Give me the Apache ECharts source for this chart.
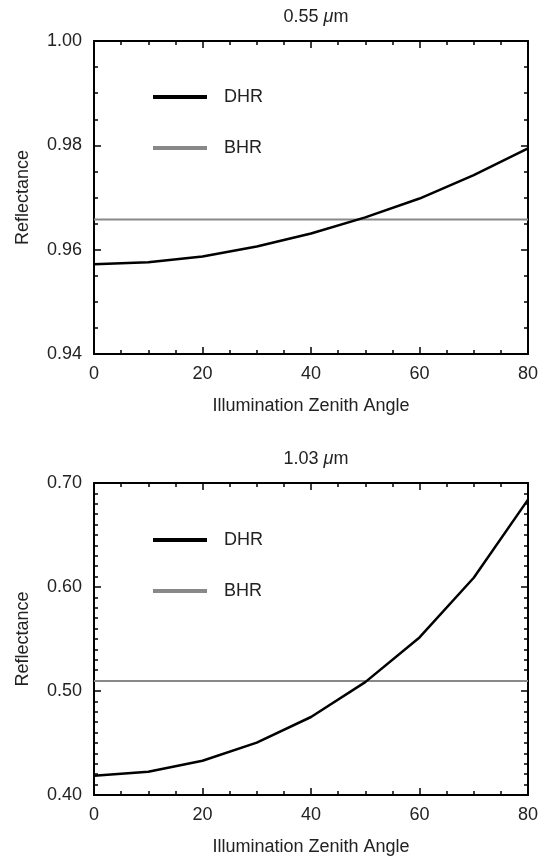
<!DOCTYPE html>
<html>
<head>
<meta charset="utf-8">
<script src="https://cdn.jsdelivr.net/npm/echarts@6/dist/echarts.min.js"></script>
<style>
html,body{margin:0;padding:0;background:#fff;}
#c{width:544px;height:858px;}
</style>
</head>
<body>
<div id="c"></div>
<script>
// Data
var angles = [0, 10, 20, 30, 40, 50, 60, 70, 80];
var dhr055 = [0.9572, 0.9576, 0.9587, 0.9606, 0.9631, 0.9662, 0.9698, 0.9743, 0.9794];
var bhr055 = 0.9658;
var dhr103 = [0.4185, 0.4223, 0.4329, 0.4504, 0.4750, 0.5085, 0.5515, 0.6089, 0.6840];
var bhr103 = 0.5095;
var titles = ['0.55 {i|μ}m', '1.03 {i|μ}m'];
var seriesNames = ['DHR', 'BHR'];
var xTitle = 'Illumination Zenith Angle';
var yTitle = 'Reflectance';

var FONT = '"Liberation Sans", Arial, Helvetica, sans-serif';
var TXT = '#222';
var grids = [
  {left: 94, right: 16, top: 41, height: 313},
  {left: 94, right: 16, top: 483, height: 312}
];
var yCfg = [
  {min: 0.94, max: 1.00, interval: 0.02, minor: 4},
  {min: 0.40, max: 0.70, interval: 0.10, minor: 10}
];

function pairs(xs, ys) { return xs.map(function (x, i) { return [x, ys[i]]; }); }
function flat(xs, v) { return [[xs[0], v], [xs[xs.length - 1], v]]; }

var xAxes = [], yAxes = [];
for (var g = 0; g < 2; g++) {
  ['bottom', 'top'].forEach(function (pos) {
    xAxes.push({
      type: 'value', gridIndex: g, position: pos, min: 0, max: 80, interval: 20,
      axisLine: {show: true, onZero: false, lineStyle: {color: '#000', width: 2}},
      axisTick: {show: true, inside: true, length: 7, lineStyle: {color: '#000', width: 1.5}},
      minorTick: {show: true, splitNumber: 4, length: 4, lineStyle: {color: '#000', width: 1.5}},
      splitLine: {show: false},
      axisLabel: {show: pos === 'bottom', color: TXT, fontFamily: FONT, fontSize: 18, margin: 11},
      name: pos === 'bottom' ? xTitle : '',
      nameLocation: 'middle', nameGap: 43,
      nameTextStyle: {color: TXT, fontFamily: FONT, fontSize: 18}
    });
  });
  (function (gi) {
    ['left', 'right'].forEach(function (pos) {
      var c = yCfg[gi];
      yAxes.push({
        type: 'value', gridIndex: gi, position: pos, min: c.min, max: c.max, interval: c.interval,
        axisLine: {show: true, onZero: false, lineStyle: {color: '#000', width: 2}},
        axisTick: {show: true, inside: true, length: 7, lineStyle: {color: '#000', width: 1.5}},
        minorTick: {show: true, splitNumber: c.minor, length: 4, lineStyle: {color: '#000', width: 1.5}},
        splitLine: {show: false},
        axisLabel: {show: pos === 'left', color: TXT, fontFamily: FONT, fontSize: 18, margin: 12,
          formatter: function (v) { return v.toFixed(2); }},
        name: pos === 'left' ? yTitle : '',
        nameLocation: 'middle', nameGap: 62,
        nameTextStyle: {color: TXT, fontFamily: FONT, fontSize: 18}
      });
    });
  })(g);
}

var chart = echarts.init(document.getElementById('c'), null, {renderer: 'canvas'});
chart.setOption({
  animation: false,
  backgroundColor: '#fff',
  title: titles.map(function (t, i) {
    return {
      text: t, left: 311, top: i === 0 ? 3 : 445, textAlign: 'center',
      textStyle: {color: TXT, fontFamily: FONT, fontSize: 18, fontWeight: 'normal',
        rich: {i: {fontStyle: 'italic', color: TXT, fontFamily: FONT, fontSize: 18}}}
    };
  }),
  legend: [
    {left: 148, top: 83, orient: 'vertical', itemGap: 33, itemWidth: 54, itemHeight: 4, icon: 'rect',
     data: seriesNames, textStyle: {color: TXT, fontFamily: FONT, fontSize: 18, padding: [0, 0, 0, 12]}},
    {left: 148, top: 526, orient: 'vertical', itemGap: 33, itemWidth: 54, itemHeight: 4, icon: 'rect',
     data: seriesNames, textStyle: {color: TXT, fontFamily: FONT, fontSize: 18, padding: [0, 0, 0, 12]}}
  ],
  grid: grids,
  xAxis: xAxes,
  yAxis: yAxes,
  series: [
    {name: 'DHR', type: 'line', xAxisIndex: 0, yAxisIndex: 0, data: pairs(angles, dhr055), showSymbol: false,
     color: '#000', lineStyle: {color: '#000', width: 2.5}, z: 3},
    {name: 'BHR', type: 'line', xAxisIndex: 0, yAxisIndex: 0, data: flat(angles, bhr055), showSymbol: false,
     color: '#888', lineStyle: {color: '#888', width: 2}, z: 2},
    {name: 'DHR', type: 'line', xAxisIndex: 2, yAxisIndex: 2, data: pairs(angles, dhr103), showSymbol: false,
     color: '#000', lineStyle: {color: '#000', width: 2.5}, z: 3},
    {name: 'BHR', type: 'line', xAxisIndex: 2, yAxisIndex: 2, data: flat(angles, bhr103), showSymbol: false,
     color: '#888', lineStyle: {color: '#888', width: 2}, z: 2}
  ]
});
</script>
</body>
</html>
